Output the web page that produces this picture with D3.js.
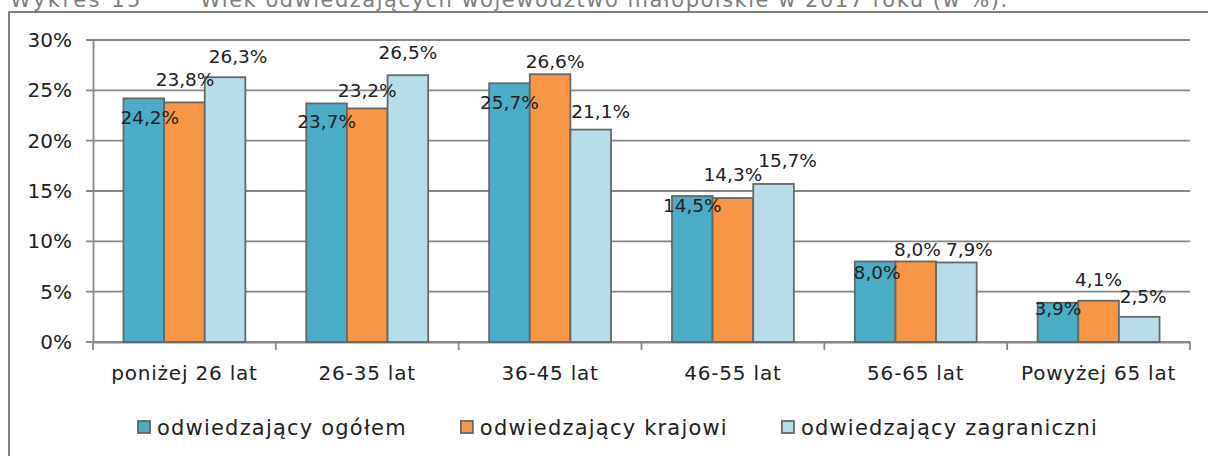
<!DOCTYPE html>
<html>
<head>
<meta charset="utf-8">
<script src="https://cdn.jsdelivr.net/npm/d3@7"></script>
<style>
  body { margin: 0; background: #fff; }
  svg { display: block; font-family: "DejaVu Sans", sans-serif; }
</style>
</head>
<body>
<div id="chart"></div>
<script>
// dane - wiek odwiedzajacych (w %)
const categories = ["poniżej 26 lat", "26-35 lat", "36-45 lat", "46-55 lat", "56-65 lat", "Powyżej 65 lat"];
const seriesNames = ["odwiedzający ogółem", "odwiedzający krajowi", "odwiedzający zagraniczni"];
const ogolem = [24.2, 23.7, 25.7, 14.5, 8.0, 3.9];
const krajowi = [23.8, 23.2, 26.6, 14.3, 8.0, 4.1];
const zagraniczni = [26.3, 26.5, 21.1, 15.7, 7.9, 2.5];
const yTicks = [0, 5, 10, 15, 20, 25, 30];

let width = 1208;
let height = 456;
let colors = ["#4BACC6", "#F79646", "#B7DEE8"];

// przesuniecia etykiet (jak recznie ustawione w Excelu) [dx, dy] od srodka/wierzcholka slupka
let labelShift = [
  [[6, 18.6], [0, 17.6], [0, 18.7], [0, 9], [2, 10.5], [0, 6]],
  [[0.6, -23], [0, -18.4], [5, -13], [0, -24], [1.7, -12.5], [0, -21.7]],
  [[13, -21], [0, -22.7], [10, -18.6], [14, -24], [13, -13.5], [4, -20]]
];

let svg = d3.select("#chart").append("svg")
  .attr("width", width)
  .attr("height", height);

// tytul (ucięty u gory, jak w oryginale)
svg.append("text")
  .attr("x", 10).attr("y", 7)
  .attr("fill", "#7f7f7f")
  .style("font-size", "21px")
  .style("letter-spacing", "2.5px")
  .text("Wykres 15");
svg.append("text")
  .attr("x", 200).attr("y", 7)
  .attr("fill", "#7f7f7f")
  .style("font-size", "21px")
  .style("letter-spacing", "1.5px")
  .text("Wiek odwiedzających województwo małopolskie w 2017 roku (w %).");

// ramka wykresu
svg.append("path")
  .attr("d", "M9," + height + "V12H" + width)
  .attr("fill", "none")
  .attr("stroke", "#7f7f7f")
  .attr("stroke-width", 2);

let x = d3.scaleBand()
  .domain(categories)
  .range([93, 1190])
  .paddingInner(0)
  .paddingOuter(0);

let xs = d3.scaleBand()
  .domain(seriesNames)
  .range([0, x.bandwidth()])
  .paddingInner(0)
  .paddingOuter(0.75);

let y = d3.scaleLinear()
  .domain([0, 30])
  .range([342, 40]);

// siatka
svg.append("g")
  .selectAll("line")
  .data(yTicks)
  .enter()
  .append("line")
  .attr("x1", 86)
  .attr("x2", 1190)
  .attr("y1", d => y(d))
  .attr("y2", d => y(d))
  .attr("stroke", "#888")
  .attr("stroke-width", 1.8);

// os Y
let yAxis = d3.axisLeft(y)
  .tickValues(yTicks)
  .tickSize(0)
  .tickPadding(21)
  .tickFormat(d => d + "%");

svg.append("g")
  .attr("transform", "translate(93,0)")
  .call(yAxis)
  .call(g => g.select(".domain").attr("stroke", "#888").attr("stroke-width", 1.8))
  .call(g => g.selectAll("text")
    .attr("fill", "#222")
    .style("font-family", "DejaVu Sans")
    .style("font-size", "20px"));

// os X
let xAxis = d3.axisBottom(x)
  .tickSize(0)
  .tickPadding(24);

svg.append("g")
  .attr("transform", "translate(0,342)")
  .call(xAxis)
  .call(g => g.select(".domain").attr("stroke", "#888").attr("stroke-width", 1.8))
  .call(g => g.selectAll("text")
    .attr("fill", "#222")
    .style("font-family", "DejaVu Sans")
    .style("font-size", "20px")
    .style("letter-spacing", "0.8px"));

// znaczniki kategorii na osi X
let boundaries = categories.map(c => x(c)).concat([x(categories[categories.length - 1]) + x.bandwidth()]);
svg.append("g")
  .selectAll("line")
  .data(boundaries)
  .enter()
  .append("line")
  .attr("x1", d => d).attr("x2", d => d)
  .attr("y1", 342).attr("y2", 350)
  .attr("stroke", "#888")
  .attr("stroke-width", 1.8);

let series = [ogolem, krajowi, zagraniczni];
let rows = [];
series.forEach(function(vals, s) {
  vals.forEach(function(v, i) {
    rows.push({ s: s, i: i, name: seriesNames[s], cat: categories[i], value: v });
  });
});

// slupki
svg.append("g")
  .selectAll("rect")
  .data(rows)
  .enter()
  .append("rect")
  .attr("x", d => x(d.cat) + xs(d.name))
  .attr("y", d => y(d.value))
  .attr("width", xs.bandwidth())
  .attr("height", d => y(0) - y(d.value))
  .attr("fill", d => colors[d.s])
  .attr("stroke", "#676767")
  .attr("stroke-width", 1.8);

// etykiety danych
svg.append("g")
  .selectAll("text")
  .data(rows)
  .enter()
  .append("text")
  .attr("x", d => x(d.cat) + xs(d.name) + xs.bandwidth() / 2 + labelShift[d.s][d.i][0])
  .attr("y", d => y(d.value) + labelShift[d.s][d.i][1])
  .attr("dy", "0.36em")
  .attr("text-anchor", "middle")
  .attr("fill", "#222")
  .style("font-size", "18.5px")
  .text(d => d3.format(".1f")(d.value).replace(".", ",") + "%");

// legenda
let legend = svg.append("g");
let items = legend.selectAll("g")
  .data(seriesNames)
  .enter()
  .append("g");

items.append("rect")
  .attr("width", 12)
  .attr("height", 12)
  .attr("y", 421)
  .attr("fill", (d, i) => colors[i])
  .attr("stroke", "#676767")
  .attr("stroke-width", 1.8);

items.append("text")
  .attr("x", 19)
  .attr("y", 427)
  .attr("dy", "0.36em")
  .attr("fill", "#222")
  .style("font-size", "21px")
  .style("letter-spacing", "1.2px")
  .text(d => d);

let pos = 0;
let offs = [];
items.each(function() {
  offs.push(pos);
  let w = 19 + d3.select(this).select("text").node().getComputedTextLength();
  pos += w + 54;
});
let total = pos - 54;
let start = 618 - total / 2;
items.attr("transform", (d, i) => "translate(" + (start + offs[i]) + ",0)");
</script>
</body>
</html>
